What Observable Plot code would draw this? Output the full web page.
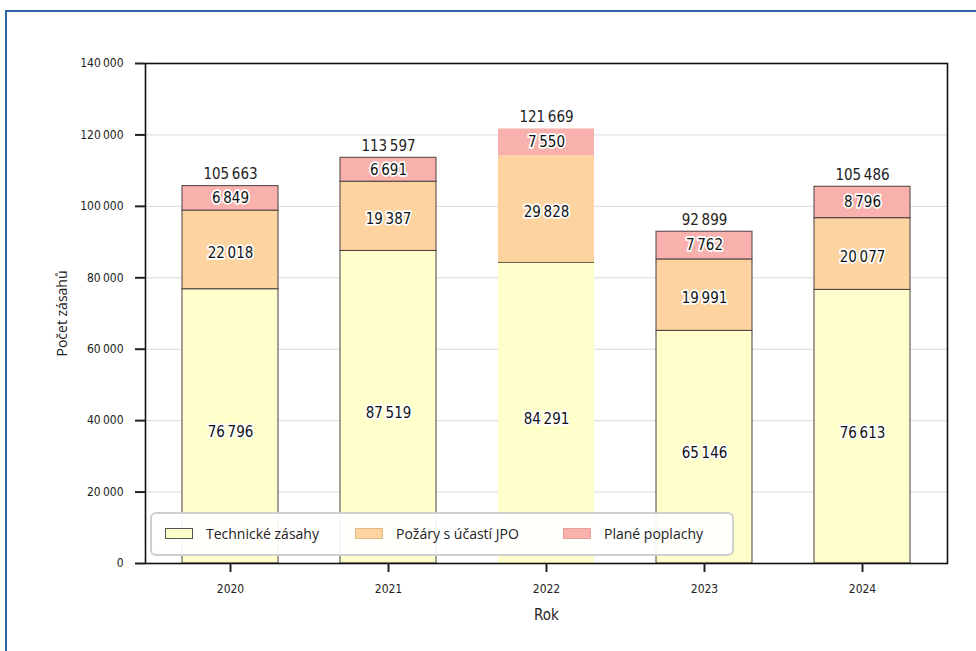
<!DOCTYPE html>
<html>
<head>
<meta charset="utf-8">
<script src="https://cdn.jsdelivr.net/npm/d3@7"></script>
<script src="https://cdn.jsdelivr.net/npm/@observablehq/plot@0.6"></script>
<style>
  html, body { margin: 0; padding: 0; background: #fff; overflow: hidden; }
  #wrap { position: relative; width: 976px; height: 651px; overflow: hidden; }
  #frame { position: absolute; left: 5px; top: 10px; width: 1000px; height: 700px;
           border: 2px solid #2d64a7; box-sizing: border-box; pointer-events: none; }
  #chart { position: absolute; left: 0; top: 0; }
  #chart svg text { font-stretch: condensed; }
  #legend { position: absolute; left: 150px; top: 512px; width: 584px; height: 44px;
            box-sizing: border-box; border: 2.5px solid #cfcfcf; border-radius: 6px;
            background: rgba(255,255,255,0.93);
            font-family: "Open Sans", "Noto Sans", sans-serif; font-size: 14px; color: #222; }
  .item { position: absolute; top: 0; height: 39px; display: flex; align-items: center; }
  .sw { width: 28px; height: 11px; margin-right: 13px; box-sizing: border-box; }
</style>
</head>
<body>
<div id="wrap">
  <div id="chart"></div>
  <div id="legend"></div>
  <div id="frame"></div>
</div>
<script>
const years = ["2020", "2021", "2022", "2023", "2024"];
const seriesNames = ["Technické zásahy", "Požáry s účastí JPO", "Plané poplachy"];
const technicke = [76796, 87519, 84291, 65146, 76613];
const pozary = [22018, 19387, 29828, 19991, 20077];
const plane = [6849, 6691, 7550, 7762, 8796];
const yTicks = [0, 20000, 40000, 60000, 80000, 100000, 120000, 140000];
const yTitle = "Počet zásahů";
const xTitle = "Rok";
const colors = ["#ffffcc", "#fdd3a0", "#f8b1ac"];
const swatchBorders = ["#555", "#e3b887", "#e6a09b"];

const fmt = v => d3.format(",")(v).replace(/,/g, "\u2009");

const rows = [];
const totals = [];
years.forEach((yr, i) => {
  const vals = [technicke[i], pozary[i], plane[i]];
  let acc = 0;
  vals.forEach((v, j) => {
    rows.push({year: yr, series: seriesNames[j], y1: acc, y2: acc + v, value: v, idx: j});
    acc += v;
  });
  totals.push({year: yr, total: acc});
});

const numFont = "'DejaVu Sans', sans-serif";
const labelDy = [6, 3, 0];

const segText = j => Plot.text(rows.filter(d => d.idx === j), {
  x: "year", y: d => (d.y1 + d.y2) / 2, text: d => fmt(d.value), dy: labelDy[j],
  fontSize: 15, fill: "#111", stroke: "white", strokeWidth: 3.5, paintOrder: "stroke"});

const plot = Plot.plot({
  width: 976,
  height: 651,
  marginLeft: 145,
  marginRight: 29,
  marginTop: 63,
  marginBottom: 88,
  style: {fontFamily: numFont, fontSize: "13px", color: "#222", background: "transparent"},
  x: {domain: years, paddingInner: 0.394, paddingOuter: 0.227},
  y: {domain: [0, 140000]},
  color: {domain: seriesNames, range: colors},
  marks: [
    Plot.gridY(yTicks.filter(t => t > 0 && t < 140000), {stroke: "#d9d9d9", strokeOpacity: 1, strokeWidth: 1}),
    Plot.barY(rows.filter(d => d.year !== "2022"), {x: "year", y1: "y1", y2: "y2", fill: "series", stroke: "#4a4040", strokeWidth: 1}),
    Plot.barY(rows.filter(d => d.year === "2022"), {x: "year", y1: "y1", y2: "y2", fill: "series"}),
    Plot.tickY(rows.filter(d => d.year === "2022" && d.idx === 0), {x: "year", y: "y2", stroke: "#6a5a48", strokeWidth: 1}),
    segText(0), segText(1), segText(2),
    Plot.text(totals, {x: "year", y: "total", text: d => fmt(d.total), dy: -12, fontSize: 15, fill: "#222"}),
    Plot.frame({stroke: "#111", strokeWidth: 1.6}),
    Plot.axisY({ticks: yTicks, tickFormat: fmt, tickSize: 10, tickPadding: 12, strokeWidth: 2,
      label: null, fontSize: 12}),
    Plot.axisX({tickSize: 9, tickPadding: 12, strokeWidth: 2, label: null, fontSize: 12}),
    Plot.text([yTitle], {frameAnchor: "left", textAnchor: "middle", dx: -83, rotate: -90, fontSize: 14, fill: "#222",
      fontFamily: "'Open Sans', 'Noto Sans', sans-serif"}),
    Plot.text([xTitle], {frameAnchor: "bottom", dy: 56, fontSize: 15, fill: "#222"})
  ]
});
document.getElementById("chart").appendChild(plot);
d3.select(plot).selectAll("text").filter(function() { return this.textContent === yTitle; })
  .style("font-stretch", "normal");

const legend = document.getElementById("legend");
const positions = [13, 203, 411];
seriesNames.forEach((name, j) => {
  const item = document.createElement("div");
  item.className = "item";
  item.style.left = positions[j] + "px";
  const sw = document.createElement("div");
  sw.className = "sw";
  sw.style.background = colors[j];
  sw.style.border = "1px solid " + swatchBorders[j];
  const t = document.createElement("span");
  t.textContent = name;
  item.appendChild(sw);
  item.appendChild(t);
  legend.appendChild(item);
});
</script>
</body>
</html>
